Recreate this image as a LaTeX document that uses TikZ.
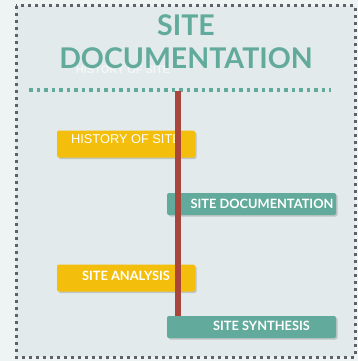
\documentclass[tikz,border=0pt]{standalone}
\usepackage{fontspec}
\setmainfont{Lato}
\newfontfamily\arialfont{Liberation Sans}
\usepackage{tikz}
\usetikzlibrary{positioning,calc,shadows}
\definecolor{teal1}{HTML}{62AB9C}
\definecolor{gold1}{HTML}{F4BE0C}
\definecolor{rust1}{HTML}{A9453A}
\definecolor{paper1}{HTML}{E2EAEB}
\definecolor{dots1}{HTML}{5E6266}
\tikzstyle{goldbox} = [rectangle, rounded corners=2pt, fill=gold1, minimum width=138pt, minimum height=27pt, inner sep=0pt, drop shadow={shadow xshift=1.5pt, shadow yshift=-1.5pt, opacity=0.35}]
\tikzstyle{tealbox} = [rectangle, rounded corners=2pt, fill=teal1, minimum width=169pt, minimum height=22pt, inner sep=0pt, drop shadow={shadow xshift=1.5pt, shadow yshift=-1.5pt, opacity=0.35}]
\tikzstyle{boxtext} = [text=white, font=\bfseries\fontsize{12.8}{13}\selectfont, inner sep=0pt]
\tikzstyle{dotline} = [line width=3.5pt, dash pattern=on 3.5pt off 4pt]

\begin{document}
\begin{tikzpicture}[x=1pt, y=-1pt]
				\useasboundingbox (0,0) rectangle (358,361);
				\fill[paper1!60!white] (0,0) rectangle (358,361);
				\fill[paper1] (16,6) rectangle (355,357);
				% frame and title
				\draw[dotline, dots1, line width=3pt, dash pattern=on 3pt off 4pt] (16,6) rectangle (355,357);
				\node[text=white, opacity=0.6, font=\arialfont\bfseries\fontsize{11}{12}\selectfont] (ghost) at (123,70) {HISTORY OF SITE};
				\node[text=teal1, font=\bfseries\fontsize{28.5}{33}\selectfont, align=center, inner sep=0pt] (title) at (186,42) {SITE\\DOCUMENTATION};
				\draw[dotline, teal1] (29,90) -- (331,90);
				% boxes
				\node (hist) at (126,144) [goldbox] {};
				\node[boxtext, font=\arialfont\fontsize{12.8}{13}\selectfont] at ($(hist.center)+(0,-5)$) {HISTORY OF SITE};
				\node (doc) at (251.5,204) [tealbox] {};
				\node[boxtext] at ($(doc.center)+(10.5,0)$) {SITE DOCUMENTATION};
				\node (anal) at (126,278) [goldbox] {};
				\node[boxtext] at ($(anal.center)+(0,-2.5)$) {SITE ANALYSIS};
				\node (synth) at (251.5,327) [tealbox] {};
				\node[boxtext] at ($(synth.center)+(10,-1)$) {SITE SYNTHESIS};
				% timeline bar
				\coordinate (bartop) at (178,91);
				\draw[rust1, line width=6.5pt] (bartop) -- (bartop |- synth.north);
				\end{tikzpicture}
\end{document}
